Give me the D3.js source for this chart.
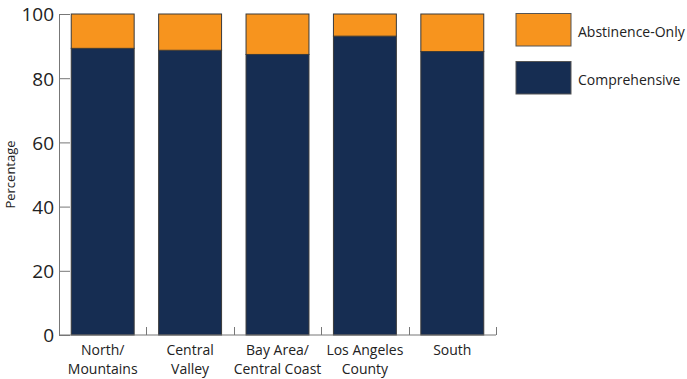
<!DOCTYPE html>
<html>
<head>
<meta charset="utf-8">
<script src="https://cdn.jsdelivr.net/npm/d3@7"></script>
<style>
  html, body { margin: 0; padding: 0; background: #fff; }
  svg { display: block; font-family: "Open Sans", "Noto Sans", sans-serif; }
</style>
</head>
<body>
<svg id="chart" width="687" height="379"></svg>
<script>
// Regions (two-line labels) and the share of each program type, in percent
const regions = ["North/\nMountains", "Central\nValley", "Bay Area/\nCentral Coast", "Los Angeles\nCounty", "South"];
const comprehensive = [89.3, 88.7, 87.4, 93.1, 88.3];
const abstinenceOnly = [10.7, 11.3, 12.6, 6.9, 11.7];
const seriesNames = ["Comprehensive", "Abstinence-Only"];
const seriesColors = ["#162d52", "#f7941e"];
const yTicks = [0, 20, 40, 60, 80, 100];

const rows = regions.map((r, i) => ({
  region: r,
  "Comprehensive": comprehensive[i],
  "Abstinence-Only": abstinenceOnly[i]
}));

const svg = d3.select("#chart");
const margin = { left: 59, right: 191, top: 14, bottom: 44 };
const W = 687, H = 379;

const x = d3.scaleBand()
  .domain(regions)
  .range([margin.left, W - margin.right])
  .paddingInner(0.28)
  .paddingOuter(0.14);

const y = d3.scaleLinear()
  .domain([0, 100])
  .range([H - margin.bottom, margin.top]);

const color = d3.scaleOrdinal().domain(seriesNames).range(seriesColors);

const stacked = d3.stack().keys(seriesNames)(rows);

// Stacked bars
svg.append("g")
  .selectAll("g")
  .data(stacked)
  .join("g")
  .attr("fill", d => color(d.key))
  .selectAll("rect")
  .data(d => d)
  .join("rect")
  .attr("x", d => x(d.data.region))
  .attr("y", d => y(d[1]))
  .attr("width", x.bandwidth())
  .attr("height", d => y(d[0]) - y(d[1]))
  .attr("stroke", "#3a3a3a")
  .attr("stroke-width", 1);

// Y axis: ticks point inward
const yAxis = svg.append("g")
  .attr("transform", `translate(${margin.left},0)`)
  .call(d3.axisRight(y).tickValues(yTicks).tickSize(11).tickFormat(d3.format("d")));
yAxis.select(".domain").attr("stroke", "#777").attr("d", `M0.5,${y(100)}V${y(0)}`);
yAxis.selectAll(".tick line").attr("stroke", "#777");
yAxis.selectAll(".tick text")
  .attr("x", -5)
  .attr("text-anchor", "end")
  .attr("font-size", 19)
  .attr("fill", "#222")
  .attr("dy", "0.36em")
  .style("font-family", "'Open Sans', sans-serif");

// X axis: baseline with short upward ticks between the regions
const xAxisG = svg.append("g").attr("transform", `translate(0,${y(0)})`);
xAxisG.append("line")
  .attr("x1", margin.left).attr("x2", W - margin.right)
  .attr("stroke", "#777");
const step = x.step();
const boundaries = regions.map((r, i) => x(r) + x.bandwidth() + (step - x.bandwidth()) / 2);
xAxisG.selectAll("line.sep")
  .data(boundaries)
  .join("line")
  .attr("class", "sep")
  .attr("x1", d => Math.round(d) + 0.5).attr("x2", d => Math.round(d) + 0.5)
  .attr("y1", 0).attr("y2", -8)
  .attr("stroke", "#777");

// Category labels
const labels = svg.append("g")
  .selectAll("text")
  .data(regions)
  .join("text")
  .attr("text-anchor", "middle")
  .attr("font-size", 14)
  .attr("fill", "#222")
  .attr("x", d => x(d) + x.bandwidth() / 2)
  .attr("y", 355);
labels.selectAll("tspan")
  .data(d => d.split("\n"))
  .join("tspan")
  .attr("x", function () { return d3.select(this.parentNode).attr("x"); })
  .attr("dy", (d, i) => i === 0 ? 0 : 19)
  .text(d => d);

// Y axis title
svg.append("text")
  .attr("transform", `translate(15,${(y(0) + y(100)) / 2}) rotate(-90)`)
  .attr("text-anchor", "middle")
  .attr("font-size", 13)
  .attr("fill", "#222")
  .text("Percentage");

// Legend
const legendItems = ["Abstinence-Only", "Comprehensive"];
const legend = svg.append("g")
  .selectAll("g")
  .data(legendItems)
  .join("g")
  .attr("transform", (d, i) => `translate(516,${13.5 + i * 48})`);
legend.append("rect")
  .attr("width", 55).attr("height", 32.5)
  .attr("fill", d => color(d))
  .attr("stroke", "#555");
legend.append("text")
  .attr("x", 62).attr("y", 19)
  .attr("dy", "0.35em")
  .attr("font-size", 14)
  .attr("fill", "#222")
  .text(d => d);
</script>
</body>
</html>
